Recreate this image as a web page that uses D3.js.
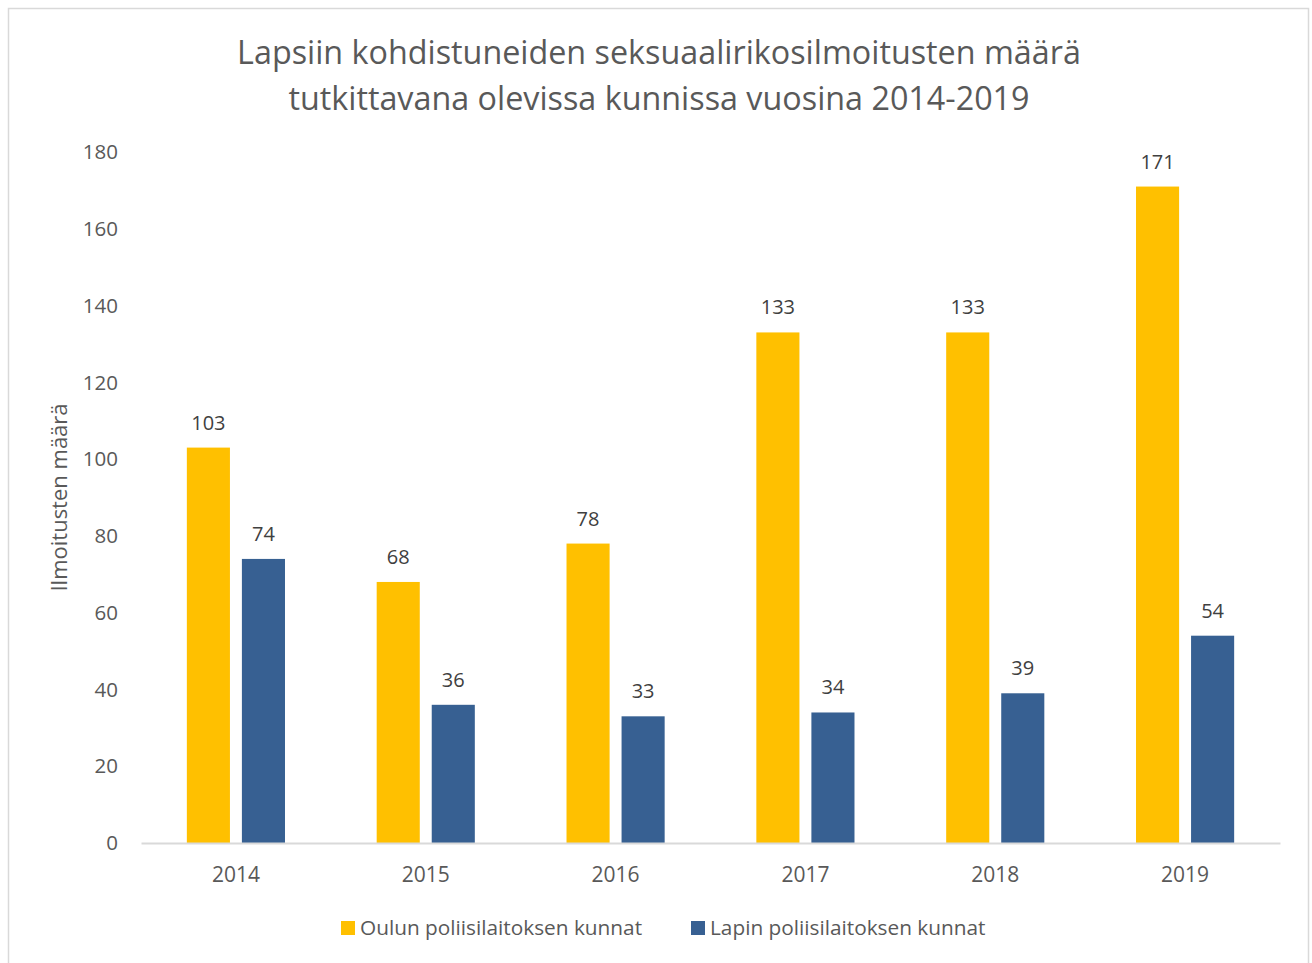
<!DOCTYPE html>
<html>
<head>
<meta charset="utf-8">
<script src="https://cdn.jsdelivr.net/npm/d3@7"></script>
<style>
  body { margin: 0; background: #fff; }
  svg { display: block; font-family: "Open Sans", sans-serif; }
</style>
</head>
<body>
<div id="chart"></div>
<script>
const years = ["2014", "2015", "2016", "2017", "2018", "2019"];
const seriesNames = ["Oulun poliisilaitoksen kunnat", "Lapin poliisilaitoksen kunnat"];
const ouluValues = [103, 68, 78, 133, 133, 171];
const lappiValues = [74, 36, 33, 34, 39, 54];
const yTicks = [0, 20, 40, 60, 80, 100, 120, 140, 160, 180];
const titleLines = [
  "Lapsiin kohdistuneiden seksuaalirikosilmoitusten määrä",
  "tutkittavana olevissa kunnissa vuosina 2014-2019"
];
const yTitle = "Ilmoitusten määrä";

const width = 1312;
const height = 963;
const colors = ["#FFC000", "#376092"];

const svg = d3.select("#chart").append("svg")
  .attr("width", width)
  .attr("height", height);

// chart border
svg.append("rect")
  .attr("x", 8.5).attr("y", 8.5)
  .attr("width", 1300).attr("height", 970)
  .attr("fill", "#fff")
  .attr("stroke", "#d9d9d9")
  .attr("stroke-width", 1.5);

const x = d3.scaleBand()
  .domain(years)
  .range([141, 1280]);

const y = d3.scaleLinear()
  .domain([0, 180])
  .range([843, 152]);

const barWidth = x.bandwidth() * 0.227;
const innerGap = x.bandwidth() * 0.063;

svg.selectAll("text.title")
  .data(titleLines)
  .enter()
  .append("text")
  .attr("class", "title")
  .attr("x", 659)
  .attr("y", (d, i) => 64 + i * 46)
  .attr("text-anchor", "middle")
  .attr("fill", "#595959")
  .style("font-size", "32.3px")
  .text((d) => d);

// y ticks (no gridlines)
svg.append("g")
  .selectAll("text")
  .data(yTicks)
  .enter()
  .append("text")
  .attr("x", 118)
  .attr("y", (d) => y(d))
  .attr("dy", "0.35em")
  .attr("text-anchor", "end")
  .attr("fill", "#595959")
  .style("font-size", "20.5px")
  .text((d) => d);

svg.append("text")
  .attr("transform", `translate(67, ${(y(0) + y(180)) / 2}) rotate(-90)`)
  .attr("text-anchor", "middle")
  .attr("fill", "#595959")
  .style("font-size", "22px")
  .text(yTitle);

const seriesData = [ouluValues, lappiValues];

seriesData.forEach((values, s) => {
  const offset = s === 0 ? -innerGap / 2 - barWidth : innerGap / 2;
  const g = svg.append("g");

  g.selectAll("rect")
    .data(values)
    .enter()
    .append("rect")
    .attr("x", (d, i) => x(years[i]) + x.bandwidth() / 2 + offset)
    .attr("y", (d) => y(d))
    .attr("width", barWidth)
    .attr("height", (d) => y(0) - y(d))
    .attr("fill", colors[s]);

  g.selectAll("text")
    .data(values)
    .enter()
    .append("text")
    .attr("x", (d, i) => x(years[i]) + x.bandwidth() / 2 + offset + barWidth / 2)
    .attr("y", (d) => y(d) - 18)
    .attr("text-anchor", "middle")
    .attr("fill", "#404040")
    .style("font-size", "20px")
    .text((d) => d);
});

// x axis
svg.append("g")
  .attr("transform", `translate(0, ${y(0)})`)
  .call(d3.axisBottom(x).tickSize(0).tickPadding(24))
  .call((g) => g.select(".domain").attr("stroke", "#d9d9d9").attr("stroke-width", 2))
  .call((g) => g.selectAll("text")
    .attr("fill", "#595959")
    .style("font-family", "'Open Sans', sans-serif")
    .style("font-size", "21px"));

// legend
const legendX = [341, 691];
seriesNames.forEach((name, i) => {
  const item = svg.append("g")
    .attr("transform", `translate(${legendX[i]}, 921)`);
  item.append("rect")
    .attr("width", 14).attr("height", 14)
    .attr("fill", colors[i]);
  item.append("text")
    .attr("x", 19)
    .attr("y", 7)
    .attr("dy", "0.35em")
    .attr("fill", "#595959")
    .style("font-size", "20.8px")
    .text(name);
});
</script>
</body>
</html>
